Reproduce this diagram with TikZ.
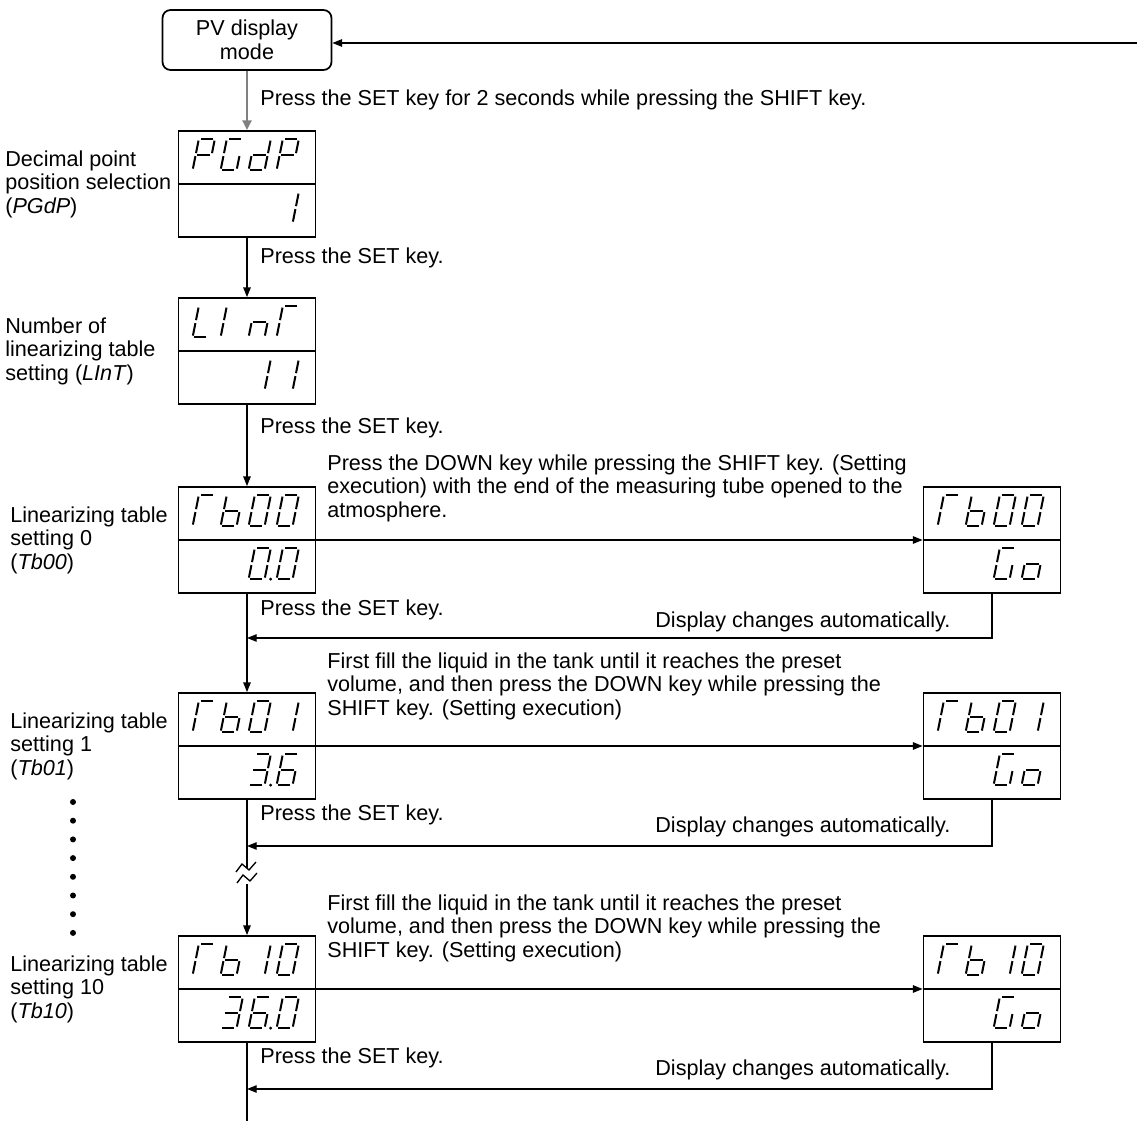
\documentclass[tikz,border=0pt]{standalone}
\usepackage{fontspec}
\setmainfont{Liberation Sans}
\usetikzlibrary{arrows.meta,calc}
\tikzset{
  display/.style={
    draw,
    line width=1pt,
    inner sep=0pt,
    minimum width=2.74cm,
    minimum height=2.12cm
  },
  pvbox/.style={
    draw,
    line width=1pt,
    rounded corners=0.16cm,
    minimum width=3.38cm,
    minimum height=1.2cm,
    align=center
  },
  arr/.style={line width=0.75pt, -{Triangle[length=5.5pt,width=4.2pt]}},
  link/.style={line width=0.75pt},
  shiftarr/.style={gray, line width=1.7pt, -{Triangle[length=5.5pt,width=5pt]}},
  segline/.style={line width=1.15pt},
  note/.style={anchor=west, inner sep=0pt, align=left}
}
% seven segment parts, v upwards
\def\sega{(2.5,31)--(14.5,31)}
\def\segb{(16,29.5)--(16,17)}
\def\segc{(16,14)--(16,1.5)}
\def\segd{(1.5,0)--(13.5,0)}
\def\sege{(0,1.5)--(0,14)}
\def\segf{(0,17)--(0,29.5)}
\def\segg{(1.5,15.5)--(14.5,15.5)}
\def\segz{}
\def\chP{a,b,e,f,g}
\def\chG{a,c,d,e,f}
\def\chd{b,c,d,e,g}
\def\chL{d,e,f}
\def\chI{e,f}
\def\chn{c,e,g}
\def\chT{a,e,f}
\def\chb{c,d,e,f,g}
\def\cho{c,d,e,g}
\def\chX{z}
\expandafter\def\csname ch0\endcsname{a,b,c,d,e,f}
\expandafter\def\csname ch1\endcsname{b,c}
\expandafter\def\csname ch3\endcsname{a,b,c,d,g}
\expandafter\def\csname ch6\endcsname{a,c,d,e,f,g}
\newcommand\segchar[2]{%
  \begin{scope}[shift={(#1)}, x=0.02cm, y=0.02cm, xslant=0.2]
    \edef\seglist{\csname ch#2\endcsname}%
    \foreach \s in \seglist {\draw[segline] \csname seg\s\endcsname;}
  \end{scope}}
\newcommand\segrow[6]{%
  \segchar{$(#1.north west)+(15,#2)$}{#3}
  \segchar{$(#1.north west)+(43,#2)$}{#4}
  \segchar{$(#1.north west)+(71,#2)$}{#5}
  \segchar{$(#1.north west)+(99,#2)$}{#6}}
\newcommand\segdot[2]{\fill ($(#1.north west)+(93,#2)$) circle (0.032cm);}
\newcommand\divider[1]{\draw[line width=1pt] (#1.west) -- (#1.east);}

\begin{document}
\begin{tikzpicture}[x=0.02cm, y=-0.02cm, font=\fontsize{12.3}{13.4}\selectfont]
  \useasboundingbox (0,0) rectangle (1137,1121);
  \node[pvbox] (pv) at (247,40) {PV display\\mode};
  \coordinate (fb) at (1137,43);
  \draw[arr] (fb) -- (fb -| pv.east);

  % left column
  \node[display] (pgdp) at (247,184) {};
  \node[display] (lint) at (247,351) {};
  \node[display] (tb00) at (247,540) {};
  \node[display] (tb01) at (247,746) {};
  \node[display] (tb10) at (247,989) {};
  % right column
  \node[display] (go00) at (992,540) {};
  \node[display] (go01) at (992,746) {};
  \node[display] (go10) at (992,989) {};
  \foreach \d in {pgdp,lint,tb00,tb01,tb10,go00,go01,go10}{
    \divider{\d}
  }

  \segrow{pgdp}{40}{P}{G}{d}{P}
  \segrow{pgdp}{93}{X}{X}{X}{1}
  \segrow{lint}{40}{L}{I}{n}{T}
  \segrow{lint}{93}{X}{X}{1}{1}
  \segrow{tb00}{40}{T}{b}{0}{0}
  \segrow{tb00}{93}{X}{X}{0}{0}
  \segdot{tb00}{93}
  \segrow{tb01}{40}{T}{b}{0}{1}
  \segrow{tb01}{93}{X}{X}{3}{6}
  \segdot{tb01}{93}
  \segrow{tb10}{40}{T}{b}{1}{0}
  \segrow{tb10}{93}{X}{3}{6}{0}
  \segdot{tb10}{93}
  \segrow{go00}{40}{T}{b}{0}{0}
  \segrow{go00}{93}{X}{X}{G}{o}
  \segrow{go01}{40}{T}{b}{0}{1}
  \segrow{go01}{93}{X}{X}{G}{o}
  \segrow{go10}{40}{T}{b}{1}{0}
  \segrow{go10}{93}{X}{X}{G}{o}

  % side labels
  \node[note] (lpgdp) at (5,184) {Decimal point\\position selection\\(\textit{PGdP})};
  \node[note] (llint) at (5,351) {Number of\\linearizing table\\setting (\textit{LInT})};
  \node[note] (ltb00) at (10,540) {Linearizing table\\setting 0\\(\textit{Tb00})};
  \node[note] (ltb01) at (10,746) {Linearizing table\\setting 1\\(\textit{Tb01})};
  \node[note] (ltb10) at (10,989) {Linearizing table\\setting 10\\(\textit{Tb10})};
  \foreach \i in {0,...,7}
    \fill (73,{802+18.7*\i}) circle (0.06cm);

  % main flow
  \draw[shiftarr] (pv.south) -- (pgdp.north);
  \node[note] (t0) at (260,100) {Press the SET key for 2 seconds while pressing the SHIFT key.};
  \draw[arr] (pgdp.south) -- (lint.north);
  \node[note] (t1) at (260,258) {Press the SET key.};
  \draw[arr] (lint.south) -- (tb00.north);
  \node[note] (t2) at (260,428) {Press the SET key.};

  \draw[arr] (tb00.east) -- (go00.west);
  \node[note] (x00) at (327,488) {Press the DOWN key while pressing the SHIFT key. (Setting\\execution) with the end of the measuring tube opened to the\\atmosphere.};
  \coordinate (ret00) at (247,638);
  \draw[arr] (tb00.south) -- (tb01.north);
  \draw[arr] (go00.south) |- (ret00);
  \node[note] (s00) at (260,610) {Press the SET key.};
  \node[note] (d00) at (655,622) {Display changes automatically.};

  \draw[arr] (tb01.east) -- (go01.west);
  \node[note] (x01) at (327,686) {First fill the liquid in the tank until it reaches the preset\\volume, and then press the DOWN key while pressing the\\SHIFT key. (Setting execution)};
  \coordinate (ret01) at (247,846);
  \coordinate (brk1) at (247,868);
  \coordinate (brk2) at (247,884);
  \draw[link] (tb01.south) -- (brk1);
  \draw[arr] (brk2) -- (tb10.north);
  \draw[link] (236,872) -- (242,864) -- (249,870) -- (256,862);
  \draw[link] (237,883) -- (243,875) -- (250,881) -- (257,873);
  \draw[arr] (go01.south) |- (ret01);
  \node[note] (s01) at (260,815) {Press the SET key.};
  \node[note] (d01) at (655,827) {Display changes automatically.};

  \draw[arr] (tb10.east) -- (go10.west);
  \node[note] (x10) at (327,928) {First fill the liquid in the tank until it reaches the preset\\volume, and then press the DOWN key while pressing the\\SHIFT key. (Setting execution)};
  \coordinate (ret10) at (247,1089);
  \coordinate (tail) at (247,1121);
  \draw[link] (tb10.south) -- (tail);
  \draw[arr] (go10.south) |- (ret10);
  \node[note] (s10) at (260,1058) {Press the SET key.};
  \node[note] (d10) at (655,1070) {Display changes automatically.};
\end{tikzpicture}
\end{document}
